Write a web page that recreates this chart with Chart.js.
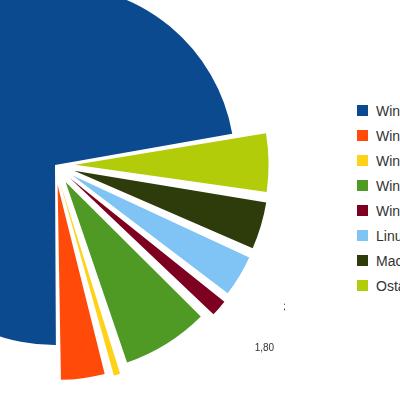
<!DOCTYPE html>
<html><head><meta charset="utf-8">
<script src="https://cdn.jsdelivr.net/npm/chart.js@4"></script>
<style>
html,body{margin:0;width:400px;height:400px;overflow:hidden;background:#fff;font-family:"Liberation Sans",Arial,sans-serif}
#wrap{position:absolute;left:-175px;top:-65px;width:460px;height:460px}
#legend{position:absolute;left:357px;top:98px;font-size:14px;color:#333;white-space:nowrap}
#legend div{height:25px;display:flex;align-items:center}
#legend span{display:inline-block;width:11px;height:11px;margin-right:8px}
</style></head><body>
<div id="wrap"><canvas id="c" width="460" height="460"></canvas></div>
<div id="legend"></div>
<script>
const categories=["Windows XP","Windows 7","Windows 2000","Windows Vista","Windows 98","Linux","Mac OS","Ostatní"];
const values=[72.3,4.00,1.00,7.60,1.80,3.80,4.30,5.20];
const valueLabels=["","4,00","1,00","7,60","1,80","3,80","4,30","5,20"];
const colors=["#0b4a8f","#ff4a0a","#ffd21a","#4e9a24","#7d0020","#7fc4f5","#2e3c0c","#b2cc0a"];
const offsets=[0,80,80,80,80,80,80,80];
const rev=a=>a.slice().reverse();
const lg=document.getElementById('legend');
categories.forEach((c,i)=>{const d=document.createElement('div');d.innerHTML='<span style="background:'+colors[i]+'"></span>'+c;lg.appendChild(d);});
const labelPlugin={id:'vl',afterDatasetsDraw(ch){
  const ctx=ch.ctx;const meta=ch.getDatasetMeta(0);const labs=rev(valueLabels);
  ctx.save();ctx.font='10px "Liberation Sans",Arial';ctx.fillStyle='#333';ctx.textAlign='center';ctx.textBaseline='middle';
  meta.data.forEach((a,i)=>{if(!labs[i])return;const m=(a.startAngle+a.endAngle)/2;const r=a.outerRadius+80+18;
    ctx.fillText(labs[i],a.x+Math.cos(m)*r,a.y+Math.sin(m)*r);});
  ctx.restore();}};
new Chart(document.getElementById('c'),{type:'pie',
 data:{labels:rev(categories),datasets:[{data:rev(values),backgroundColor:rev(colors),offset:rev(offsets),borderWidth:0}]},
 options:{responsive:false,animation:false,rotation:80,layout:{padding:10},
  plugins:{legend:{display:false},tooltip:{enabled:false}}},
 plugins:[labelPlugin]});
</script></body></html>
